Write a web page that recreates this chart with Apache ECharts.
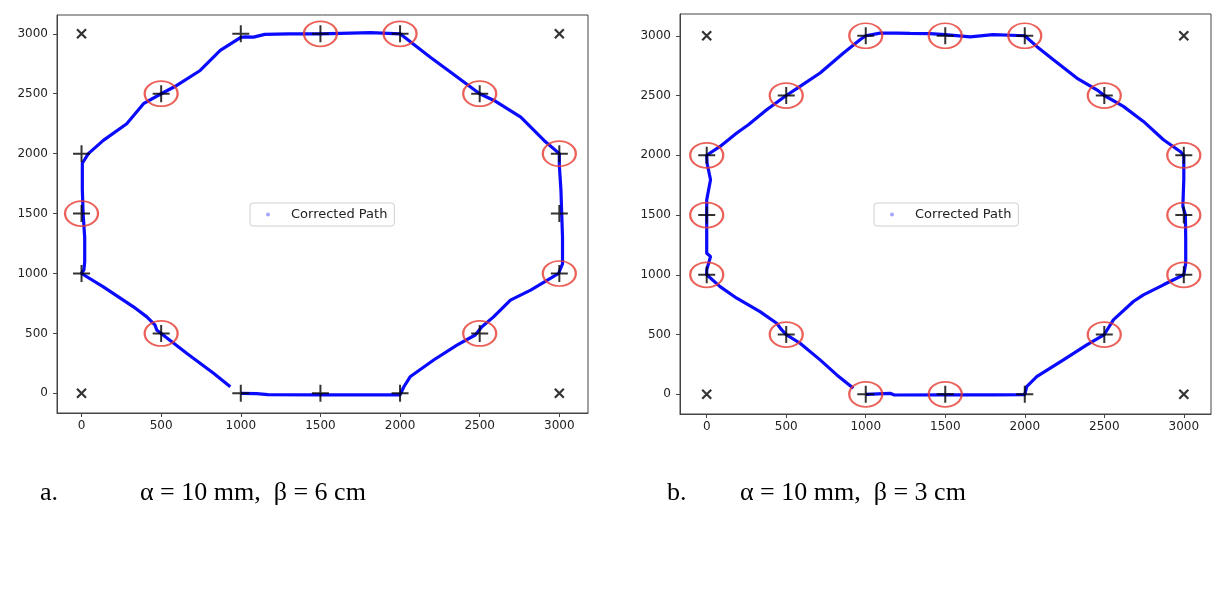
<!DOCTYPE html>
<html>
<head>
<meta charset="utf-8">
<script src="https://cdn.jsdelivr.net/npm/echarts@6/dist/echarts.min.js"></script>
<style>
html,body{margin:0;padding:0;background:#fff;}
#chart{width:1227px;height:601px;}
</style>
</head>
<body>
<div id="chart"></div>
<script>
// ---- data ----
const tickValues = [0, 500, 1000, 1500, 2000, 2500, 3000];

const targets = [[0,1000],[0,1500],[0,2000],[500,2500],[1000,3000],[1500,3000],[2000,3000],[2500,2500],
  [3000,2000],[3000,1500],[3000,1000],[2500,500],[2000,0],[1500,0],[1000,0],[500,500]];
const corners = [[0,0],[0,3000],[3000,0],[3000,3000]];

const circlesA = [[500,2500],[1500,3000],[2000,3000],[2500,2500],[3000,2000],[3000,1000],[2500,500],[500,500],[0,1500]];
const circlesB = [[1000,3000],[1500,3000],[2000,3000],[500,2500],[2500,2500],[0,2000],[3000,2000],[0,1500],
  [3000,1500],[0,1000],[3000,1000],[500,500],[2500,500],[1000,0],[1500,0]];

const pathA = [[1000,0],[1100,-3],[1170,-10],[1500,-12],[1800,-12],[2000,-12],[2024,55],[2063,138],[2211,278],
  [2357,403],[2472,487],[2514,555],[2587,638],[2693,778],[2820,861],[2925,944],[2995,1000],[3020,1080],[3020,1300],
  [3015,1500],[3010,1700],[3000,1900],[3000,2000],[2904,2110],[2758,2305],[2590,2444],[2500,2500],[2318,2680],
  [2190,2805],[2000,3000],[1814,3010],[1500,3000],[1300,3000],[1150,2995],[1080,2972],[1028,2975],[1000,2970],
  [871,2861],[745,2694],[598,2569],[500,2500],[389,2417],[284,2250],[137,2111],[43,2000],[35,1990],[5,1920],
  [5,1700],[10,1500],[20,1300],[20,1100],[15,1030],[0,1000],[137,889],[326,722],[410,638],[462,569],[472,528],
  [500,500],[662,333],[829,167],[934,55]];

const pathB = [[1000,0],[1153,8],[1180,-6],[1500,-5],[1800,-5],[2000,-3],[2012,64],[2075,147],[2243,288],
  [2390,413],[2500,500],[2557,622],[2683,776],[2746,832],[2872,916],[3000,1000],[3012,1097],[3012,1300],
  [3010,1500],[2994,1572],[3000,1800],[3000,2000],[2977,2032],[2872,2130],[2746,2283],[2620,2409],[2500,2500],
  [2453,2548],[2327,2646],[2180,2800],[2075,2911],[2000,3000],[1800,3010],[1656,2990],[1500,3009],[1404,3018],
  [1278,3020],[1195,3022],[1090,3022],[1000,3000],[964,2967],[860,2856],[713,2688],[587,2576],[500,2500],
  [377,2381],[262,2255],[189,2186],[84,2074],[0,2000],[2,1935],[24,1795],[0,1627],[0,1500],[0,1180],[24,1153],
  [0,1041],[0,1000],[84,901],[189,804],[335,692],[440,594],[472,538],[500,500],[587,427],[713,288],[818,162],[922,50]];

const seriesName = 'Corrected Path';
const captionLabels = ['a.', 'b.'];
const captionTexts = ['\u03b1 = 10 mm,  \u03b2 = 6 cm', '\u03b1 = 10 mm,  \u03b2 = 3 cm'];

// ---- chart ----
const axisColor = '#444';
const labelColor = '#222';
const plusSym = 'path://M10,0L10,20M0,10L20,10';
const xSym = 'path://M0,0L10,10M0,10L10,0';
const plainFmt = function (v) { return String(v); };

function mkX(idx, min, max) {
  return {
    type: 'value', gridIndex: idx, min: min, max: max,
    splitLine: {show: false},
    axisLine: {show: true, onZero: false, lineStyle: {color: axisColor, width: 1}},
    axisTick: {show: true, length: 4, lineStyle: {color: axisColor}, customValues: tickValues},
    axisLabel: {color: labelColor, fontSize: 12, fontFamily: 'DejaVu Sans', margin: 7, customValues: tickValues, formatter: plainFmt}
  };
}
function mkY(idx, min, max) {
  return {
    type: 'value', gridIndex: idx, min: min, max: max,
    splitLine: {show: false},
    axisLine: {show: true, onZero: false, lineStyle: {color: axisColor, width: 1}},
    axisTick: {show: true, length: 4, lineStyle: {color: axisColor}, customValues: tickValues},
    axisLabel: {color: labelColor, fontSize: 12, fontFamily: 'DejaVu Sans', margin: 9, customValues: tickValues, formatter: plainFmt}
  };
}

function panelSeries(idx, path, circles) {
  return [
    {
      name: seriesName, type: 'line', xAxisIndex: idx, yAxisIndex: idx, data: path,
      showSymbol: false, smooth: false, silent: true,
      lineStyle: {color: '#0a0aff', width: 3.2}, itemStyle: {color: '#0a0aff'}, z: 2
    },
    {
      type: 'scatter', xAxisIndex: idx, yAxisIndex: idx, data: targets, silent: true,
      symbol: plusSym, symbolSize: 17,
      itemStyle: {color: '#000', borderColor: '#000', borderWidth: 2}, z: 3
    },
    {
      type: 'scatter', xAxisIndex: idx, yAxisIndex: idx, data: corners, silent: true,
      symbol: xSym, symbolSize: 9,
      itemStyle: {color: '#000', borderColor: '#000', borderWidth: 2.2}, z: 3
    },
    {
      type: 'scatter', xAxisIndex: idx, yAxisIndex: idx, data: circles, silent: true,
      symbol: 'circle', symbolSize: [33, 25],
      itemStyle: {color: 'rgba(0,0,0,0)', borderColor: '#e6392f', borderWidth: 2}, z: 4
    }
  ];
}

function mkLegend(left) {
  return {
    left: left, top: 203, orient: 'horizontal', selectedMode: false,
    backgroundColor: '#fff', borderColor: '#d0d0d0', borderWidth: 1, borderRadius: 3,
    padding: [5, 7, 5, 16], itemWidth: 4, itemHeight: 4,
    textStyle: {fontSize: 13, fontFamily: 'DejaVu Sans', color: '#222', padding: [0, 0, 0, 16]},
    data: [{name: seriesName, icon: 'circle', itemStyle: {color: 'rgba(90,90,255,0.55)'}}]
  };
}

const capStyle = {fontFamily: 'Liberation Serif', fontSize: 26, fontWeight: 'normal', color: '#000'};
const chart = echarts.init(document.getElementById('chart'), null, {renderer: 'canvas'});
chart.setOption({
  animation: false,
  backgroundColor: '#fff',
  grid: [
    {left: 57, top: 15, width: 531, height: 398, show: true, borderColor: axisColor, borderWidth: 1, backgroundColor: 'transparent'},
    {left: 680, top: 14, width: 531, height: 400, show: true, borderColor: axisColor, borderWidth: 1, backgroundColor: 'transparent'}
  ],
  xAxis: [mkX(0, -154, 3180), mkX(1, -168, 3171)],
  yAxis: [mkY(0, -164, 3157), mkY(1, -165, 3182)],
  legend: [mkLegend(250), mkLegend(874)],
  title: [
    {text: captionLabels[0], left: 40, top: 480, textStyle: capStyle, padding: 0},
    {text: captionTexts[0], left: 140, top: 480, textStyle: capStyle, padding: 0},
    {text: captionLabels[1], left: 667, top: 480, textStyle: capStyle, padding: 0},
    {text: captionTexts[1], left: 740, top: 480, textStyle: capStyle, padding: 0}
  ],
  series: [].concat(panelSeries(0, pathA, circlesA), panelSeries(1, pathB, circlesB))
});
</script>
</body>
</html>
